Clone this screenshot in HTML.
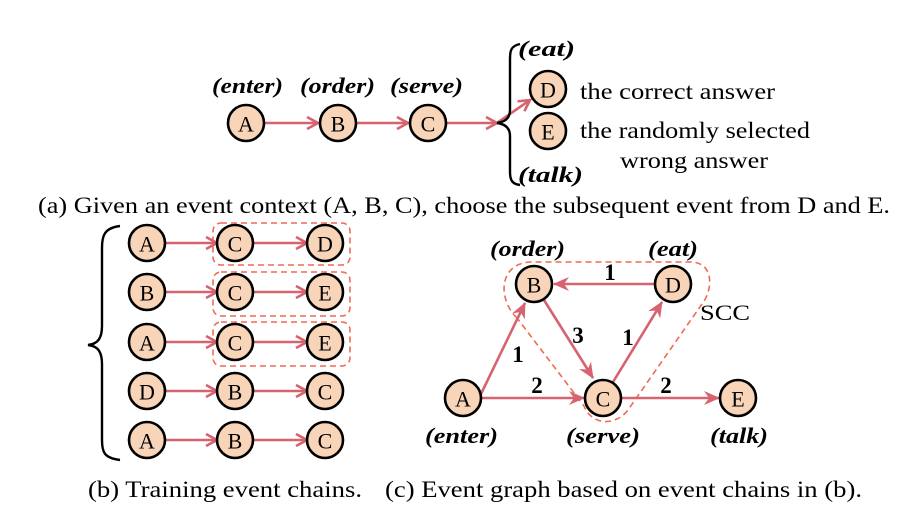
<!DOCTYPE html>
<html><head><meta charset="utf-8"><style>
html,body{margin:0;padding:0;background:#fff;}
svg{display:block;font-family:"Liberation Serif",serif;}
.n circle{fill:#f8d4b8;stroke:#000;stroke-width:2.6;}
.n text{font-size:22px;text-anchor:middle;dominant-baseline:central;}
.e{stroke:#d6636f;stroke-width:2.6;fill:none;marker-end:url(#ar);}
.lab{font-size:22px;font-weight:bold;font-style:italic;}
.w{font-size:23px;font-weight:bold;text-anchor:middle;}
.box{fill:none;stroke:#f06a52;stroke-width:1.6;stroke-dasharray:6,4;}
.cap{font-size:23px;}
.t{font-size:23px;}
</style></head><body>
<svg width="924" height="523" viewBox="0 0 924 523">
<defs><marker id="ar" markerWidth="14" markerHeight="14" refX="12" refY="7" orient="auto" markerUnits="userSpaceOnUse"><path d="M1,1 L12,7 L1,13" fill="none" stroke="#d6636f" stroke-width="2.6"/></marker>
<marker id="ar2" markerWidth="16" markerHeight="14" refX="15" refY="7" orient="auto" markerUnits="userSpaceOnUse"><path d="M0,0 L16,7 L0,14 L5,7 Z" fill="#d6636f"/></marker></defs>

<!-- (a) -->
<g>
<text class="lab" x="212" y="93" textLength="71" lengthAdjust="spacingAndGlyphs">(enter)</text>
<text class="lab" x="300" y="93" textLength="75" lengthAdjust="spacingAndGlyphs">(order)</text>
<text class="lab" x="390" y="93" textLength="73" lengthAdjust="spacingAndGlyphs">(serve)</text>
<line class="e" x1="264" y1="123" x2="318" y2="123"/>
<line class="e" x1="356" y1="123" x2="408" y2="123"/>
<line class="e" x1="446" y1="123" x2="497" y2="123"/>
<line class="e" x1="497" y1="123" x2="530" y2="100"/>
<path d="M520,44 C510,46 510,52 510,60 L510,110 C510,118 505,122 497,123 C505,124 510,128 510,136 L510,172 C510,180 512,184 520,185" fill="none" stroke="#000" stroke-width="2.4"/>
<g class="n"><circle cx="246" cy="123" r="18"/><text x="246" y="124">A</text></g>
<g class="n"><circle cx="338" cy="123" r="18"/><text x="338" y="124">B</text></g>
<g class="n"><circle cx="428" cy="123" r="18"/><text x="428" y="124">C</text></g>
<g class="n"><circle cx="548" cy="89" r="18"/><text x="548" y="90">D</text></g>
<g class="n"><circle cx="548" cy="131" r="18"/><text x="548" y="132">E</text></g>
<text class="lab" x="518" y="56" textLength="57" lengthAdjust="spacingAndGlyphs">(eat)</text>
<text class="lab" x="518" y="182" textLength="65" lengthAdjust="spacingAndGlyphs">(talk)</text>
<text class="t" x="580" y="99" textLength="195" lengthAdjust="spacingAndGlyphs">the correct answer</text>
<text class="t" x="580" y="138" textLength="230" lengthAdjust="spacingAndGlyphs">the randomly selected</text>
<text class="t" x="620" y="168" textLength="148" lengthAdjust="spacingAndGlyphs">wrong answer</text>
<text class="cap" x="38" y="213" textLength="852" lengthAdjust="spacingAndGlyphs">(a) Given an event context (A, B, C), choose the subsequent event from D and E.</text>
</g>

<!-- (b) -->
<g>
<path d="M120,226 C104,228 102,236 102,248 L102,326 C102,338 98,344 88,345 C98,346 102,352 102,364 L102,440 C102,452 104,458 120,460" fill="none" stroke="#000" stroke-width="2.4"/>
<rect class="box" x="213" y="223" width="137" height="42" rx="8"/>
<rect class="box" x="213" y="272" width="137" height="44" rx="8"/>
<rect class="box" x="213" y="322" width="137" height="44" rx="8"/>
<g id="rows"></g>
<text class="cap" x="88" y="497" textLength="274" lengthAdjust="spacingAndGlyphs">(b) Training event chains.</text>
</g>

<!-- (c) -->
<g>
<path class="box" d="M517,318 C498,300 498,264 530,262 L690,262 C716,262 712,292 702,304 L628,410 C616,426 592,426 584,406 Z"/>
<text x="700" y="320" style="font-size:22px" textLength="50" lengthAdjust="spacingAndGlyphs">SCC</text>
<line class="e" x1="655" y1="284" x2="554" y2="284" style="marker-end:url(#ar2)"/>
<line class="e" x1="544" y1="300" x2="593" y2="378" style="marker-end:url(#ar2)"/>
<line class="e" x1="613" y1="382" x2="662" y2="302" style="marker-end:url(#ar2)"/>
<line class="e" x1="480" y1="396" x2="525" y2="303" style="marker-end:url(#ar2)"/>
<line class="e" x1="481" y1="398" x2="584" y2="398" style="marker-end:url(#ar2)"/>
<line class="e" x1="621" y1="398" x2="719" y2="398" style="marker-end:url(#ar2)"/>
<g class="n"><circle cx="534" cy="284" r="18"/><text x="534" y="285">B</text></g>
<g class="n"><circle cx="673" cy="284" r="18"/><text x="673" y="285">D</text></g>
<g class="n"><circle cx="463" cy="398" r="18"/><text x="463" y="399">A</text></g>
<g class="n"><circle cx="603" cy="398" r="18"/><text x="603" y="399">C</text></g>
<g class="n"><circle cx="738" cy="398" r="18"/><text x="738" y="399">E</text></g>
<text class="w" x="610" y="280">1</text>
<text class="w" x="578" y="343">3</text>
<text class="w" x="628" y="345">1</text>
<text class="w" x="518" y="362">1</text>
<text class="w" x="537" y="393">2</text>
<text class="w" x="666" y="393">2</text>
<text class="lab" x="490" y="256" textLength="75" lengthAdjust="spacingAndGlyphs">(order)</text>
<text class="lab" x="648" y="256" textLength="50" lengthAdjust="spacingAndGlyphs">(eat)</text>
<text class="lab" x="425" y="443" textLength="73" lengthAdjust="spacingAndGlyphs">(enter)</text>
<text class="lab" x="566" y="443" textLength="74" lengthAdjust="spacingAndGlyphs">(serve)</text>
<text class="lab" x="710" y="443" textLength="58" lengthAdjust="spacingAndGlyphs">(talk)</text>
<text class="cap" x="385" y="497" textLength="477" lengthAdjust="spacingAndGlyphs">(c) Event graph based on event chains in (b).</text>
</g>
</svg>
<script>
const chains=[["A","C","D"],["B","C","E"],["A","C","E"],["D","B","C"],["A","B","C"]];
const colX=[147,235,325], rowY=[243,292,342,391,440];
const g=document.getElementById('rows');
const NS='http://www.w3.org/2000/svg';
chains.forEach((c,i)=>{
  const y=rowY[i];
  for(let j=0;j<2;j++){
    const l=document.createElementNS(NS,'line');
    l.setAttribute('class','e');
    l.setAttribute('x1',colX[j]+18);l.setAttribute('y1',y);
    l.setAttribute('x2',colX[j+1]-18);l.setAttribute('y2',y);
    
    
    g.appendChild(l);
  }
  c.forEach((t,j)=>{
    const n=document.createElementNS(NS,'g');
    n.setAttribute('class','n');
    
    
    const ci=document.createElementNS(NS,'circle');
    ci.setAttribute('cx',colX[j]);ci.setAttribute('cy',y);ci.setAttribute('r',18);
    const tx=document.createElementNS(NS,'text');
    tx.setAttribute('x',colX[j]);tx.setAttribute('y',y+1);tx.textContent=t;
    n.appendChild(ci);n.appendChild(tx);g.appendChild(n);
  });
});
</script>
</body></html>
